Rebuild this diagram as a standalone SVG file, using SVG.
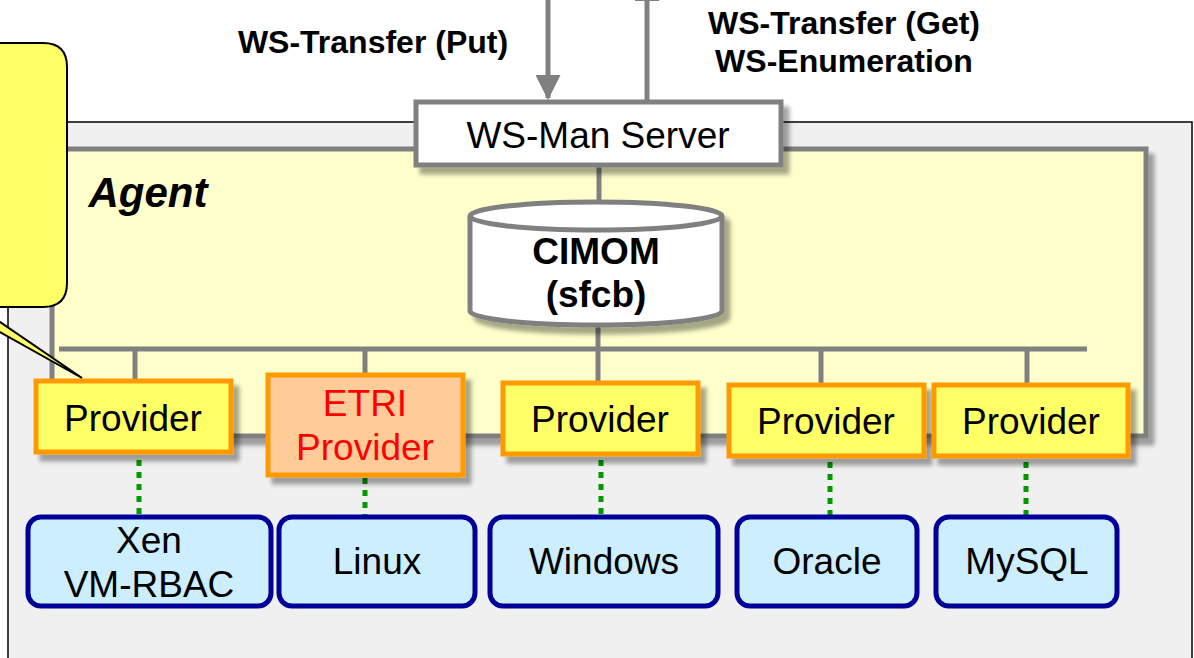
<svg xmlns="http://www.w3.org/2000/svg" width="1194" height="658" viewBox="0 0 1194 658">
<defs>
<filter id="sh" x="-10%" y="-10%" width="130%" height="140%">
<feDropShadow dx="6" dy="7" stdDeviation="2" flood-color="#000" flood-opacity="0.35"/>
</filter>
<marker id="ah" markerWidth="5" markerHeight="5" refX="4.6" refY="2.5" orient="auto" markerUnits="strokeWidth">
<path d="M0,0 L5,2.5 L0,5 Z" fill="#808080"/>
</marker>
</defs>
<style>
.t{font-family:"Liberation Sans",Arial,sans-serif;text-anchor:middle;fill:#000}
.reg{font-size:37px}
.bold{font-size:32px;font-weight:bold}
.prov{fill:#ffff66;stroke:#ff9900;stroke-width:5}
.res{fill:#cceeff;stroke:#000099;stroke-width:5}
.gl{stroke:#808080;stroke-width:5;fill:none}
.dot{stroke:#009900;stroke-width:5;stroke-dasharray:6 6;fill:none}
</style>

<g id="outer">
<rect x="8" y="122" width="1184" height="560" fill="#f0f0f0" stroke="#000" stroke-width="1.5"/>
</g>
<g id="agent">
<rect x="52" y="149" width="1094" height="287" fill="#ffffcc" stroke="#808080" stroke-width="5" filter="url(#sh)"/>
<text class="t" x="148" y="207" style="font-size:42px;font-weight:bold;font-style:italic">Agent</text>
</g>

<g id="connectors">
<line class="gl" x1="548" y1="0" x2="548" y2="98" marker-end="url(#ah)"/>
<line class="gl" x1="647" y1="101" x2="647" y2="-22" marker-end="url(#ah)"/>
<line class="gl" x1="599" y1="166" x2="599" y2="204"/>
<line class="gl" x1="598" y1="322" x2="598" y2="349"/>
<line class="gl" x1="59" y1="349" x2="1087" y2="349"/>
<line class="gl" x1="135" y1="349" x2="135" y2="382"/>
<line class="gl" x1="365" y1="349" x2="365" y2="376"/>
<line class="gl" x1="598" y1="349" x2="598" y2="384"/>
<line class="gl" x1="821" y1="349" x2="821" y2="384"/>
<line class="gl" x1="1027" y1="349" x2="1027" y2="384"/>
<line class="dot" x1="139" y1="460" x2="139" y2="515"/>
<line class="dot" x1="365" y1="478" x2="365" y2="515"/>
<line class="dot" x1="601" y1="460" x2="601" y2="515"/>
<line class="dot" x1="830" y1="462" x2="830" y2="515"/>
<line class="dot" x1="1026" y1="462" x2="1026" y2="515"/>
</g>

<g id="labels">
<text class="t bold" x="373" y="53">WS-Transfer (Put)</text>
<text class="t bold" x="844" y="34">WS-Transfer (Get)</text>
<text class="t bold" x="844" y="72">WS-Enumeration</text>
</g>

<g id="wsman">
<rect x="416" y="102" width="365" height="63" fill="#fff" stroke="#808080" stroke-width="5" filter="url(#sh)"/>
<text class="t reg" x="598" y="148">WS-Man Server</text>
</g>

<g id="cimom">
<path d="M470,216 L470,311 A126,14 0 0 0 722,311 L722,216 A126,14 0 0 0 470,216 Z" fill="#fff" stroke="#808080" stroke-width="5" filter="url(#sh)"/>
<path d="M470,216 A126,14 0 0 0 722,216" fill="none" stroke="#808080" stroke-width="5"/>
<text class="t" x="596" y="264" style="font-size:37px;font-weight:bold">CIMOM</text>
<text class="t" x="596" y="307" style="font-size:37px;font-weight:bold">(sfcb)</text>
</g>

<g id="provider1">
<rect class="prov" x="36" y="381" width="195" height="71" filter="url(#sh)"/>
<text class="t reg" x="133" y="431">Provider</text>
</g>
<g id="provider2">
<rect class="prov" x="268" y="375" width="195" height="100" style="fill:#ffcc99" filter="url(#sh)"/>
<text class="t reg" x="365" y="416" style="fill:#ff0000">ETRI</text>
<text class="t reg" x="365" y="460" style="fill:#ff0000">Provider</text>
</g>
<g id="provider3">
<rect class="prov" x="503" y="383" width="195" height="71" filter="url(#sh)"/>
<text class="t reg" x="600" y="432">Provider</text>
</g>
<g id="provider4">
<rect class="prov" x="729" y="385" width="195" height="71" filter="url(#sh)"/>
<text class="t reg" x="826" y="434">Provider</text>
</g>
<g id="provider5">
<rect class="prov" x="934" y="385" width="194" height="71" filter="url(#sh)"/>
<text class="t reg" x="1031" y="434">Provider</text>
</g>

<g id="xen">
<rect class="res" x="28" y="517" width="243" height="89" rx="13"/>
<text class="t reg" x="149" y="553">Xen</text>
<text class="t reg" x="149" y="597">VM-RBAC</text>
</g>
<g id="linux">
<rect class="res" x="279" y="517" width="196" height="89" rx="13"/>
<text class="t reg" x="377" y="574">Linux</text>
</g>
<g id="windows">
<rect class="res" x="490" y="517" width="228" height="89" rx="13"/>
<text class="t reg" x="604" y="574">Windows</text>
</g>
<g id="oracle">
<rect class="res" x="737" y="517" width="180" height="89" rx="13"/>
<text class="t reg" x="827" y="574">Oracle</text>
</g>
<g id="mysql">
<rect class="res" x="936" y="517" width="181" height="89" rx="13"/>
<text class="t reg" x="1027" y="574">MySQL</text>
</g>

<g id="callout">
<path d="M-200,43 L43,43 Q67,43 67,67 L67,283 Q67,307 43,307 L-22,307 L82,378 L-45,307 L-200,307 Z" fill="#ffff66" stroke="#000" stroke-width="2"/>
</g>
</svg>
